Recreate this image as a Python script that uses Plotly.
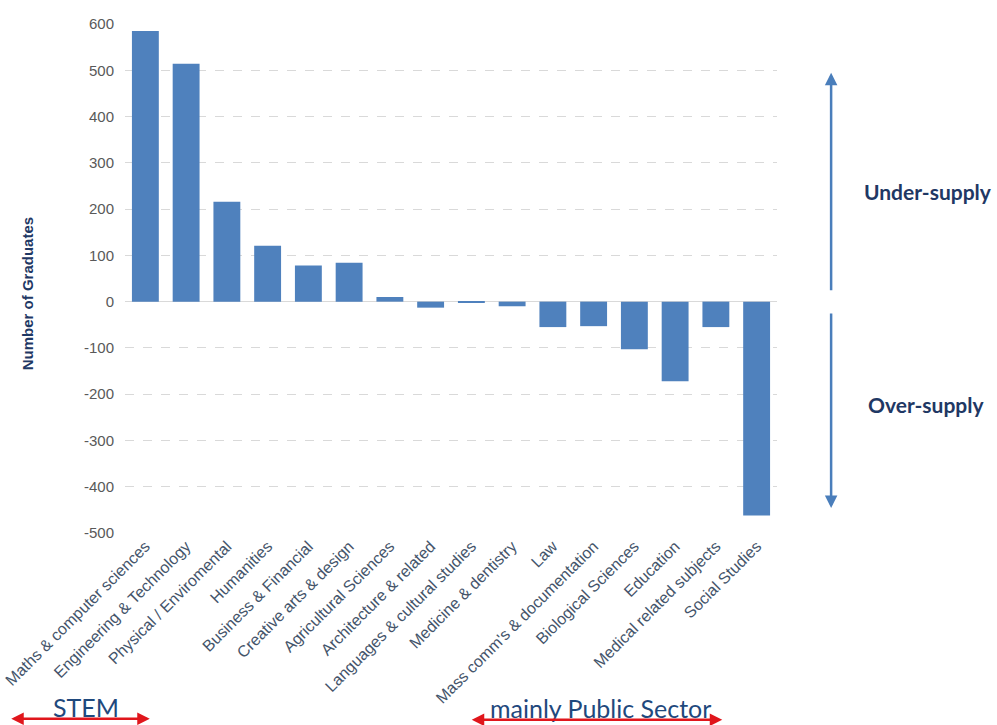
import plotly.graph_objects as go

# Graduate supply gap by subject area (positive = under-supply, negative = over-supply)
subjects = [
    "Maths & computer sciences",
    "Engineering & Technology",
    "Physical / Enviromental",
    "Humanities",
    "Business & Financial",
    "Creative arts & design",
    "Agricultural Sciences",
    "Architecture & related",
    "Languages & cultural studies",
    "Medicine & dentistry",
    "Law",
    "Mass comm's & documentation",
    "Biological Sciences",
    "Education",
    "Medical related subjects",
    "Social Studies",
]
graduates_gap = [585, 514, 216, 121, 78, 84, 10, -13, -3, -10, -55, -53, -103, -172, -55, -462]

y_ticks = [600, 500, 400, 300, 200, 100, 0, -100, -200, -300, -400, -500]

BAR_BLUE = "#4F81BD"
NAVY = "#1F3864"
TICK_GREY = "#595959"
ARROW_BLUE = "#4A7EBB"
RED = "#E0161C"
CALLOUT_FONT = "Lato, Open Sans, sans-serif"

fig = go.Figure(
    go.Bar(
        x=subjects,
        y=graduates_gap,
        marker=dict(color=BAR_BLUE, line=dict(width=0)),
        width=0.66,
    )
)

fig.update_layout(
    width=997,
    height=725,
    margin=dict(l=125, r=220, t=24, b=192),
    paper_bgcolor="white",
    plot_bgcolor="white",
    showlegend=False,
    font=dict(family="Arial, Liberation Sans, sans-serif"),
)

fig.update_xaxes(
    tickangle=-45,
    tickfont=dict(size=16, color="#44546A"),
    showgrid=False,
    showline=False,
    ticks="",
    automargin=False,
)

fig.update_yaxes(
    range=[-500, 600],
    tickvals=y_ticks,
    ticktext=[str(v) for v in y_ticks],
    tickfont=dict(size=15, color=TICK_GREY),
    showgrid=True,
    gridcolor="#D9D9D9",
    griddash="dash",
    gridwidth=1,
    zeroline=True,
    zerolinecolor="#D9D9D9",
    zerolinewidth=1,
    showline=False,
    ticklabelstandoff=10,
    automargin=False,
)


def label(text, x, y, size, color, family=None, angle=0):
    font = dict(size=size, color=color)
    if family:
        font["family"] = family
    return dict(text=text, x=x, y=y, xref="paper", yref="paper", showarrow=False,
                xanchor="center", yanchor="middle", textangle=angle, font=font)


def arrow(x, y, ax, ay, color, both=False):
    a = dict(x=x, y=y, xref="paper", yref="paper", ax=ax, ay=ay, text="",
             showarrow=True, arrowhead=2, arrowsize=1, arrowwidth=2.5, arrowcolor=color)
    if both:
        a.update(startarrowhead=2, arrowside="end+start", startarrowsize=1)
    return a


annotations = [
    # y-axis title
    label("<b>Number of Graduates</b>", -0.150, 0.4695, 15, NAVY, angle=-90),
    # supply labels on the right
    label("<b>Under-supply</b>", 1.2316, 0.670, 21, NAVY, CALLOUT_FONT),
    label("<b>Over-supply</b>", 1.229, 0.2534, 21, NAVY, CALLOUT_FONT),
    # vertical arrows
    arrow(1.083, 0.904, 0, 219, ARROW_BLUE),
    arrow(1.083, 0.049, 0, -196, ARROW_BLUE),
    # group labels below the axis
    label("STEM", -0.060, -0.342, 25, "#1F497D", CALLOUT_FONT),
    label("mainly Public Sector", 0.729, -0.344, 25, "#1F497D", CALLOUT_FONT),
    # red double-headed arrows
    arrow(0.038, -0.365, -140, 0, RED, both=True),
    arrow(0.916, -0.367, -252, 0, RED, both=True),
]
fig.update_layout(annotations=annotations)

fig.write_html("out.html")
